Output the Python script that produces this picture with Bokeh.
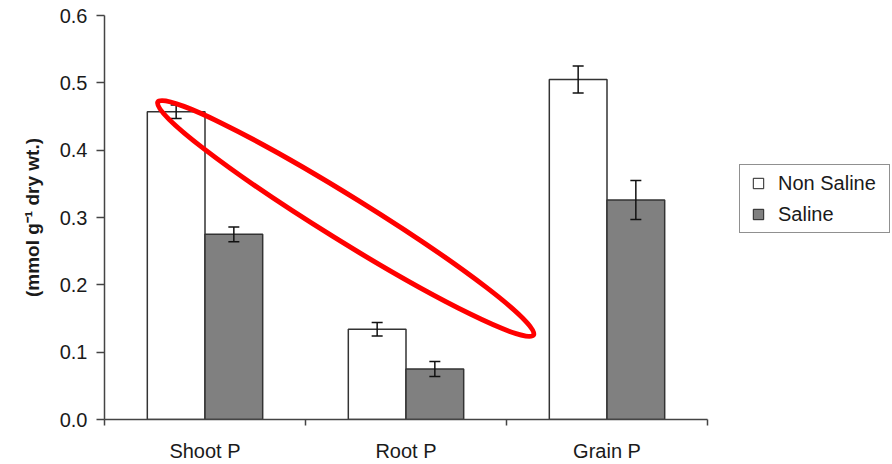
import numpy as np
from bokeh.plotting import figure
from bokeh.models import (ColumnDataSource, Whisker, TeeHead, FixedTicker,
                          PrintfTickFormatter, Legend, LegendItem, Range1d)
from bokeh.embed import file_html
from bokeh.resources import INLINE

# ---- data ----
categories = ["Shoot P", "Root P", "Grain P"]
series_labels = ["Non Saline", "Saline"]
non_saline = [0.457, 0.134, 0.505]
non_saline_err = [0.010, 0.010, 0.020]
saline = [0.275, 0.075, 0.326]
saline_err = [0.011, 0.011, 0.029]
y_ticks = [0.0, 0.1, 0.2, 0.3, 0.4, 0.5, 0.6]
y_label = "(mmol g\u207b\u00b9 dry wt.)"

FONT = "Liberation Sans"
TXT = "#1a1a1a"
AX = "#444444"

n_cat = len(categories)
centers = np.arange(n_cat) + 0.5
bar_w = 0.287
off = bar_w / 2

src_ns = ColumnDataSource(dict(
    x=centers - off, top=non_saline,
    upper=np.array(non_saline) + np.array(non_saline_err),
    lower=np.array(non_saline) - np.array(non_saline_err)))
src_s = ColumnDataSource(dict(
    x=centers + off, top=saline,
    upper=np.array(saline) + np.array(saline_err),
    lower=np.array(saline) - np.array(saline_err)))

# frame spans to the right edge so the legend (in the blank right part) is not clipped;
# each category occupies 201 px, the axis itself is bounded to the categories.
W, H, LEFT = 892, 464, 104
cat_px = 201.0
p = figure(width=W, height=H, x_range=Range1d(0, (W - LEFT) / cat_px),
           y_range=Range1d(0, 0.6), output_backend="svg", toolbar_location=None,
           min_border_left=LEFT, min_border_right=0, min_border_top=15,
           min_border_bottom=41)
p.grid.visible = False
p.outline_line_color = None
p.background_fill_color = "white"
p.border_fill_color = "white"

p.vbar(x="x", top="top", width=bar_w, source=src_ns, fill_color="white",
       line_color="#333333", line_width=1.5)
p.vbar(x="x", top="top", width=bar_w, source=src_s, fill_color="#808080",
       line_color="#333333", line_width=1.5)

# legend glyph renderers (zero size on the plot, hidden under the error bars)
lg_ns = p.scatter(x="x", y="top", source=src_ns, marker="square", size=0,
                  fill_color="white", line_color="#222222", line_width=1)
lg_s = p.scatter(x="x", y="top", source=src_s, marker="square", size=0,
                 fill_color="#808080", line_color="#222222", line_width=1)

for s in (src_ns, src_s):
    w = Whisker(source=s, base="x", upper="upper", lower="lower",
                line_color="#111111", line_width=1.5, level="annotation",
                upper_head=TeeHead(size=11, line_color="#111111", line_width=1.5),
                lower_head=TeeHead(size=11, line_color="#111111", line_width=1.5))
    p.add_layout(w)

# x axis
xa = p.xaxis[0]
xa.bounds = (0, n_cat)
xa.ticker = FixedTicker(ticks=list(centers), minor_ticks=list(range(n_cat + 1)))
xa.major_label_overrides = {float(c): lab for c, lab in zip(centers, categories)}
xa.major_tick_line_color = None
xa.major_tick_out = 0
xa.major_tick_in = 0
xa.minor_tick_line_color = AX
xa.minor_tick_line_width = 1.5
xa.minor_tick_out = 6
xa.minor_tick_in = 0
xa.axis_line_color = AX
xa.axis_line_width = 1.5
xa.major_label_standoff = 14
xa.major_label_text_font = FONT
xa.major_label_text_font_size = "20px"
xa.major_label_text_color = TXT

# y axis
ya = p.yaxis[0]
ya.ticker = FixedTicker(ticks=y_ticks, minor_ticks=[])
ya.formatter = PrintfTickFormatter(format="%.1f")
ya.major_tick_out = 8
ya.major_tick_in = 0
ya.major_tick_line_color = AX
ya.major_tick_line_width = 1.5
ya.minor_tick_line_color = None
ya.axis_line_color = AX
ya.axis_line_width = 1.5
ya.major_label_standoff = 9
ya.major_label_text_font = FONT
ya.major_label_text_font_size = "20px"
ya.major_label_text_color = TXT
ya.axis_label = y_label
ya.axis_label_text_font = FONT
ya.axis_label_text_font_size = "19px"
ya.axis_label_text_font_style = "bold"
ya.axis_label_text_color = TXT
ya.axis_label_standoff = 14

# red ellipse annotation (drawn on top)
p.ellipse(x=[1.2], y=[0.2985], width=[442], height=[44], angle=[-0.555],
          width_units="screen", height_units="screen", fill_color=None,
          line_color="red", line_width=5, level="overlay")

legend = Legend(items=[LegendItem(label=series_labels[0], renderers=[lg_ns]),
                       LegendItem(label=series_labels[1], renderers=[lg_s])],
                location=(635, 186), border_line_color="#222222",
                border_line_width=1, background_fill_color="white",
                padding=5, spacing=5, margin=0, glyph_width=26, glyph_height=26,
                label_standoff=7, label_width=106, label_text_font=FONT,
                label_text_font_size="20px", label_text_color=TXT)
p.add_layout(legend)

open("out.html", "w").write(file_html(p, INLINE))
